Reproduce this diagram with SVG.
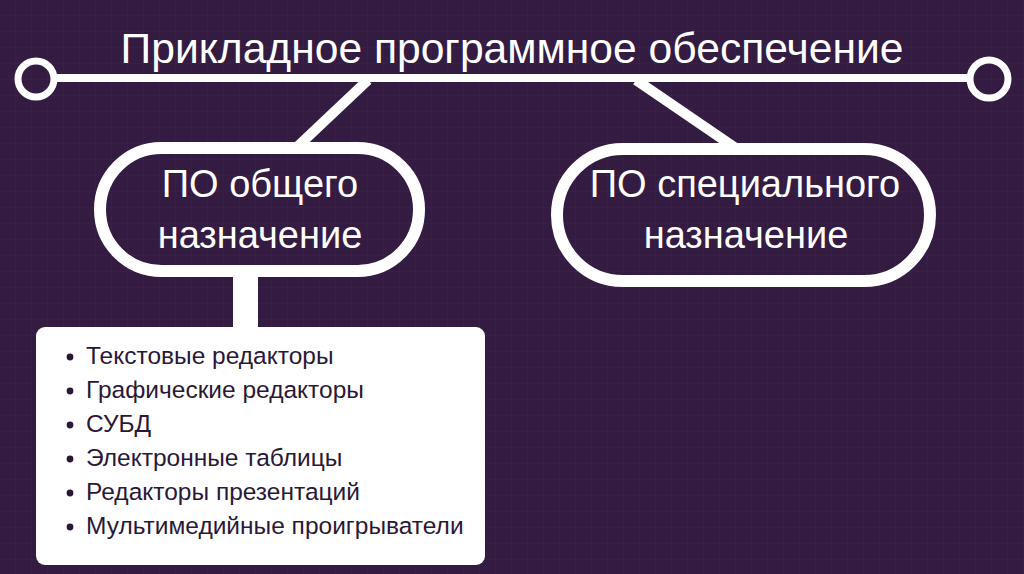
<svg xmlns="http://www.w3.org/2000/svg" width="1024" height="574" viewBox="0 0 1024 574">
  <defs>
    <pattern id="grid" width="16" height="16" patternUnits="userSpaceOnUse">
      <rect width="16" height="16" fill="#331b42"/>
      <path d="M16 0V16M0 16H16" stroke="#3b2350" stroke-width="1"/>
    </pattern>
    <style>
      .w { fill: none; stroke: #ffffff; }
      .t { font-family: "Liberation Sans", Arial, sans-serif; fill: #ffffff; text-anchor: middle; }
      .li { font-family: "Liberation Sans", Arial, sans-serif; fill: #2b1838; font-size: 24.5px; }
      .dot { fill: #2b1838; }
    </style>
  </defs>
  <rect width="1024" height="574" fill="url(#grid)"/>

  <g id="connectors">
    <line class="w" x1="54" y1="78" x2="970" y2="78" stroke-width="8"/>
    <line class="w" x1="368" y1="80" x2="296" y2="148" stroke-width="10"/>
    <line class="w" x1="636" y1="80" x2="737" y2="149" stroke-width="10"/>
    <rect x="233" y="275" width="25" height="56" fill="#ffffff"/>
  </g>

  <g id="root">
    <circle class="w" cx="36" cy="79" r="18" stroke-width="7"/>
    <circle class="w" cx="989" cy="79" r="19" stroke-width="7"/>
    <text class="t" x="512" y="63" font-size="42.6">Прикладное программное обеспечение</text>
  </g>

  <g id="general">
    <rect class="w" x="100" y="148" width="319" height="123" rx="61.5" ry="61.5" stroke-width="12"/>
    <text class="t" x="260" y="197" font-size="38">ПО общего</text>
    <text class="t" x="260" y="248" font-size="38">назначение</text>
  </g>

  <g id="special">
    <rect class="w" x="557" y="149" width="373" height="132" rx="66" ry="66" stroke-width="12"/>
    <text class="t" x="745" y="197" font-size="38">ПО специального</text>
    <text class="t" x="746" y="248" font-size="38">назначение</text>
  </g>

  <g id="list">
    <rect x="36" y="327" width="449" height="238" rx="9" ry="9" fill="#ffffff"/>
    <circle class="dot" cx="70" cy="357" r="3.4"/>
    <circle class="dot" cx="70" cy="391" r="3.4"/>
    <circle class="dot" cx="70" cy="425" r="3.4"/>
    <circle class="dot" cx="70" cy="459" r="3.4"/>
    <circle class="dot" cx="70" cy="493" r="3.4"/>
    <circle class="dot" cx="70" cy="527" r="3.4"/>
    <text class="li" x="86" y="364">Текстовые редакторы</text>
    <text class="li" x="86" y="398">Графические редакторы</text>
    <text class="li" x="86" y="432">СУБД</text>
    <text class="li" x="86" y="466">Электронные таблицы</text>
    <text class="li" x="86" y="500">Редакторы презентаций</text>
    <text class="li" x="86" y="534">Мультимедийные проигрыватели</text>
  </g>
</svg>
